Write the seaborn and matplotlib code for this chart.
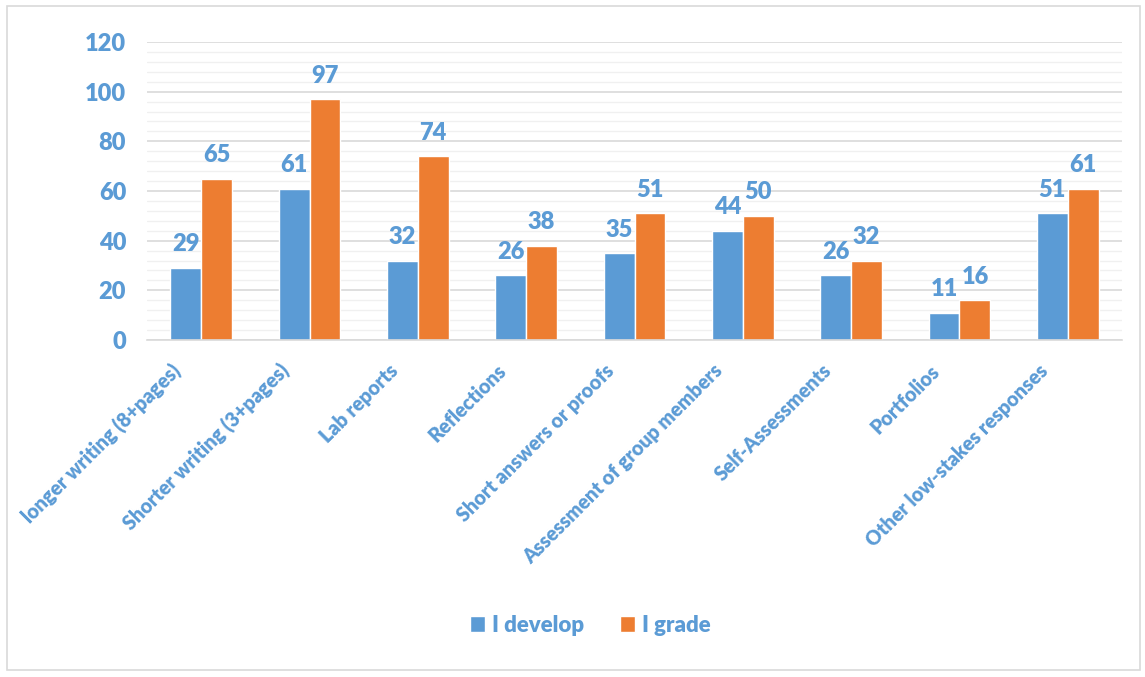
import pandas as pd
import numpy as np
import matplotlib.pyplot as plt
import matplotlib.transforms as mtransforms
import seaborn as sns
from matplotlib.ticker import MultipleLocator
from matplotlib.patches import Rectangle

# data
categories = ['longer writing (8+pages)', 'Shorter writing (3+pages)', 'Lab reports',
              'Reflections', 'Short answers or proofs', 'Assessment of group members',
              'Self-Assessments', 'Portfolios', 'Other low-stakes responses']
develop = [29, 61, 32, 26, 35, 44, 26, 11, 51]
grade = [65, 97, 74, 38, 51, 50, 32, 16, 61]
series = ['I develop', 'I grade']

df = pd.DataFrame({
    'category': categories * 2,
    'value': develop + grade,
    'series': [series[0]] * len(categories) + [series[1]] * len(categories),
})

sns.set_theme(style='white')
plt.rcParams['font.family'] = ['Lato', 'DejaVu Sans']
plt.rcParams['font.weight'] = 'bold'

blue = '#5B9BD5'
orange = '#ED7D31'
txt = '#5B9BD5'

fig = plt.figure(figsize=(11.45, 6.77), dpi=100)
ax = fig.add_axes([147 / 1145, 1 - 340 / 677, 975 / 1145, 298 / 677])

sns.barplot(data=df, x='category', y='value', hue='series', palette=[blue, orange],
            width=0.57, saturation=1, ax=ax, legend=True)

ax.set_ylim(0, 120)
ax.yaxis.set_major_locator(MultipleLocator(20))
ax.yaxis.set_minor_locator(MultipleLocator(4))
ax.grid(which='major', axis='y', color='#d9d9d9', linewidth=1.2)
ax.grid(which='minor', axis='y', color='#f0f0f0', linewidth=1.0)
ax.set_axisbelow(True)
for s in ['left', 'right', 'top']:
    ax.spines[s].set_visible(False)
ax.spines['bottom'].set_color('#d9d9d9')
ax.spines['bottom'].set_linewidth(1.2)
ax.tick_params(axis='both', which='both', length=0)
ax.tick_params(axis='y', pad=15, labelsize=17, labelcolor=txt)
ax.tick_params(axis='x', pad=15, labelsize=14.2, labelcolor=txt)
for lab in ax.get_yticklabels():
    lab.set_fontweight('heavy')
shift = mtransforms.ScaledTranslation(-30 / 100, 0, fig.dpi_scale_trans)
for lab in ax.get_xticklabels():
    lab.set_rotation(45)
    lab.set_ha('right')
    lab.set_rotation_mode('anchor')
    lab.set_fontweight('heavy')
    lab.set_transform(lab.get_transform() + shift)
ax.set_xlabel('')
ax.set_ylabel('')

for cont in ax.containers:
    ax.bar_label(cont, padding=9, fontsize=17, fontweight='heavy', color=txt)

leg = ax.legend(loc='center', bbox_to_anchor=(590 / 1145, 1 - 625 / 677),
                bbox_transform=fig.transFigure, ncol=2, frameon=False,
                fontsize=16, handlelength=0.7, handleheight=0.7,
                handletextpad=0.3, columnspacing=1.6)
for t in leg.get_texts():
    t.set_color(txt)
    t.set_fontweight('heavy')

# outer border
fig.patches.append(Rectangle((7 / 1145, 7 / 677), 1133 / 1145, 664 / 677,
                             transform=fig.transFigure, fill=False,
                             edgecolor='#d9d9d9', linewidth=1.2))

plt.savefig('out.png', dpi=100)
